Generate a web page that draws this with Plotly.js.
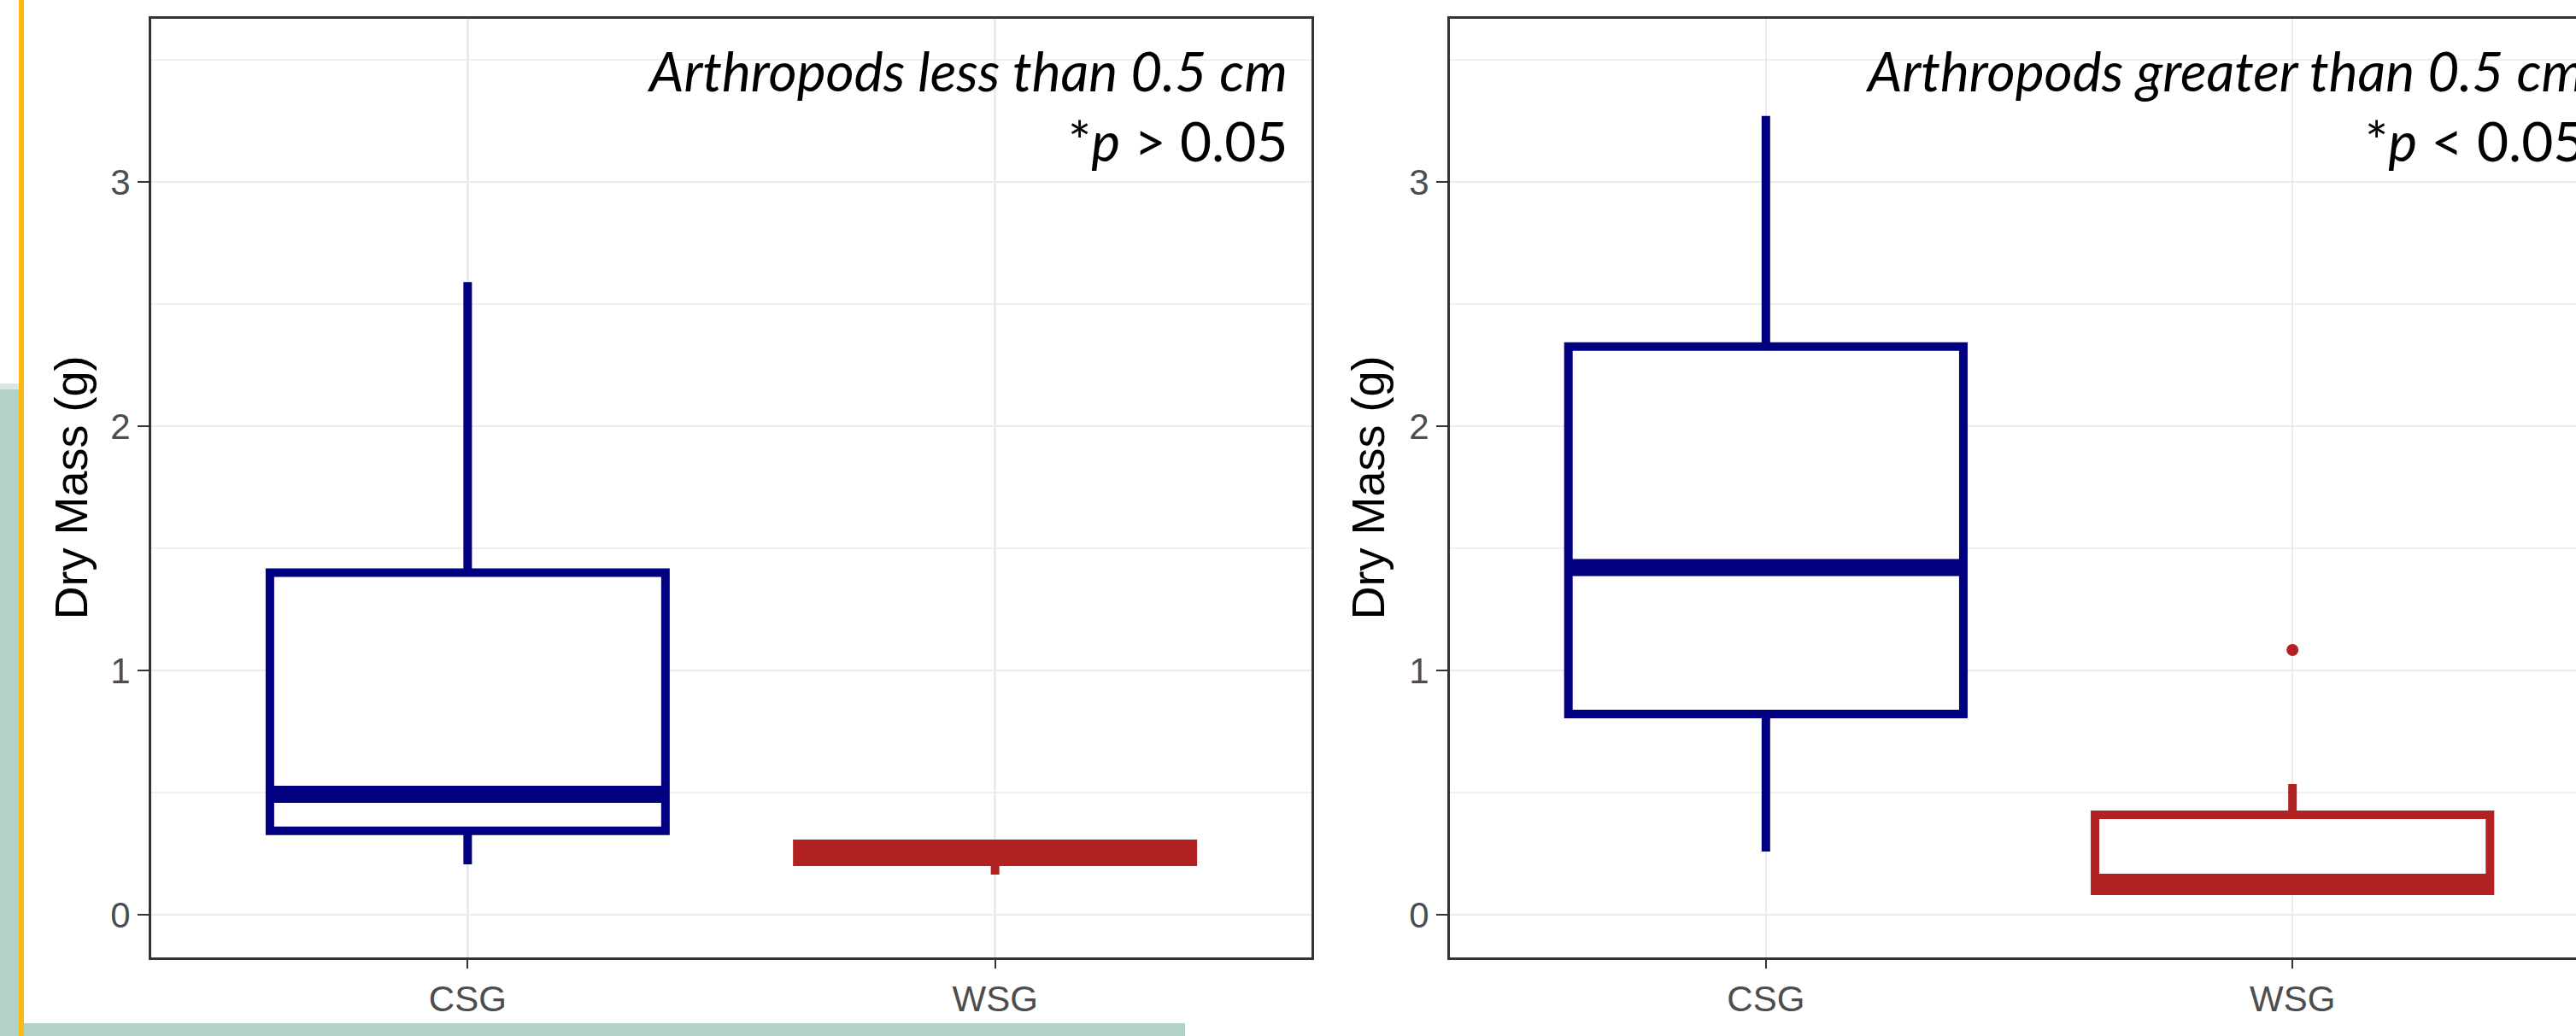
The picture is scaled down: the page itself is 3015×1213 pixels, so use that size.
<!DOCTYPE html>
<html>
<head>
<meta charset="utf-8">
<script src="https://cdn.plot.ly/plotly-3.0.1.min.js"></script>
<style>
  html, body { margin: 0; padding: 0; background: #ffffff; width: 3015px; height: 1213px; overflow: hidden; }
  #wrap { position: relative; width: 3015px; height: 1213px; overflow: hidden; }
  #plot { position: absolute; left: 0; top: 0; width: 3060px; height: 1213px; }
  .deco { position: absolute; z-index: 10; }
</style>
</head>
<body>
<div id="wrap">
  <div id="plot"></div>
  <div class="deco" style="left:0;top:456px;width:22px;height:757px;background:#B2D2C5;"></div>
  <div class="deco" style="left:0;top:449px;width:22px;height:7px;background:#D6E8E0;"></div>
  <div class="deco" style="left:22px;top:0;width:6px;height:1213px;background:#FDBB12;"></div>
  <div class="deco" style="left:28px;top:1198px;width:1359px;height:15px;background:#B2D2C5;"></div>
</div>
<script>
// ---- data ----
const groups = ['CSG', 'WSG'];
const groupPos = [0, 1];
const groupColors = ['#000080', '#B22222'];

// Arthropods less than 0.5 cm
const smallQ1 = [0.343, 0.217];
const smallMedian = [0.493, 0.250];
const smallQ3 = [1.40, 0.290];
const smallLower = [0.206, 0.164];
const smallUpper = [2.59, 0.290];
const smallOutliers = [[], []];

// Arthropods greater than 0.5 cm
const largeQ1 = [0.822, 0.098];
const largeMedian = [1.421, 0.133];
const largeQ3 = [2.326, 0.409];
const largeLower = [0.259, 0.098];
const largeUpper = [3.27, 0.535];
const largeOutliers = [[], [1.084]];

const panelLabels = ['Arthropods less than 0.5 cm', 'Arthropods greater than 0.5 cm'];
const pLabels = ['*<i>p</i> &gt; 0.05', '*<i>p</i> &lt; 0.05'];
const yTitle = 'Dry Mass (g)';

// ---- style ----
const BOXW = 0.75;
const traces = [];

function addPanel(q1, med, q3, lo, hi, outl, xa, ya) {
  for (let i = 0; i < groups.length; i++) {
    traces.push({
      type: 'box', xaxis: xa, yaxis: ya,
      x: [groupPos[i]], q1: [q1[i]], median: [med[i]], q3: [q3[i]],
      lowerfence: [lo[i]], upperfence: [hi[i]],
      width: BOXW, whiskerwidth: 0,
      line: { color: groupColors[i], width: 10 },
      fillcolor: '#ffffff', showlegend: false, hoverinfo: 'skip'
    });
    traces.push({
      type: 'scatter', mode: 'lines', xaxis: xa, yaxis: ya,
      x: [groupPos[i] - BOXW / 2, groupPos[i] + BOXW / 2],
      y: [med[i], med[i]],
      line: { color: groupColors[i], width: 20 },
      showlegend: false, hoverinfo: 'skip'
    });
    if (outl[i].length) {
      traces.push({
        type: 'scatter', mode: 'markers', xaxis: xa, yaxis: ya,
        x: outl[i].map(() => groupPos[i]), y: outl[i],
        marker: { color: groupColors[i], size: 14 },
        showlegend: false, hoverinfo: 'skip'
      });
    }
  }
}
addPanel(smallQ1, smallMedian, smallQ3, smallLower, smallUpper, smallOutliers, 'x', 'y');
addPanel(largeQ1, largeMedian, largeQ3, largeLower, largeUpper, largeOutliers, 'x2', 'y2');

const tickFont = { family: 'Liberation Sans, Arial, sans-serif', size: 42, color: '#4D4D4D' };
function xAxis(domain, anchor) {
  return {
    domain: domain, anchor: anchor, range: [-0.6, 1.6], type: 'linear',
    tickmode: 'array', tickvals: groupPos, ticktext: groups,
    showgrid: true, gridcolor: '#EBEBEB', gridwidth: 2.5,
    zeroline: false, showline: true, mirror: true, linecolor: '#333333', linewidth: 3,
    ticks: 'outside', ticklen: 10, tickwidth: 2, tickcolor: '#333333',
    tickfont: tickFont, fixedrange: true
  };
}
function yAxis(anchor) {
  return {
    anchor: anchor, range: [-0.175, 3.668], tick0: 0, dtick: 1,
    showgrid: true, gridcolor: '#EBEBEB', gridwidth: 2.5,
    minor: { dtick: 0.5, showgrid: true, gridcolor: '#EFEFEF', gridwidth: 1.6, ticks: '' },
    zeroline: false, showline: true, mirror: true, linecolor: '#333333', linewidth: 3,
    ticks: 'outside', ticklen: 13, tickwidth: 2, tickcolor: '#333333',
    tickfont: tickFont, fixedrange: true
  };
}

const W = 3060, L = 177, R = 7;
const area = W - L - R;
const d1 = [0, (1535 - L) / area];
const d2 = [(1697 - L) / area, 1];

const labelFont = { family: 'Lato, sans-serif', size: 64, color: '#000000' };
const titleFont = { family: 'Liberation Sans, Arial, sans-serif', size: 54, color: '#000000' };
const annotations = [];
[['x', 'y'], ['x2', 'y2']].forEach(([xr, yr], k) => {
  annotations.push({ xref: xr, yref: yr, x: 1.558, y: 3.458, xanchor: 'right', yanchor: 'middle',
    text: '<i>' + panelLabels[k] + '</i>', showarrow: false, font: labelFont });
  annotations.push({ xref: xr, yref: yr, x: 1.558, y: 3.168, xanchor: 'right', yanchor: 'middle',
    text: pLabels[k], showarrow: false, font: labelFont });
});
annotations.push({ xref: 'paper', yref: 'paper', x: (82 - L) / area, y: 0.5, xanchor: 'center', yanchor: 'middle',
  text: yTitle, textangle: -90, showarrow: false, font: titleFont });
annotations.push({ xref: 'paper', yref: 'paper', x: (1600 - L) / area, y: 0.5, xanchor: 'center', yanchor: 'middle',
  text: yTitle, textangle: -90, showarrow: false, font: titleFont });

const layout = {
  width: W, height: 1213,
  margin: { l: L, r: R, t: 22, b: 92, pad: 0 },
  paper_bgcolor: '#ffffff', plot_bgcolor: '#ffffff',
  boxmode: 'overlay', showlegend: false,
  xaxis: xAxis(d1, 'y'), yaxis: yAxis('x'),
  xaxis2: xAxis(d2, 'y2'), yaxis2: yAxis('x2'),
  annotations: annotations
};

Plotly.newPlot('plot', traces, layout, { displayModeBar: false, staticPlot: true });
</script>
</body>
</html>
